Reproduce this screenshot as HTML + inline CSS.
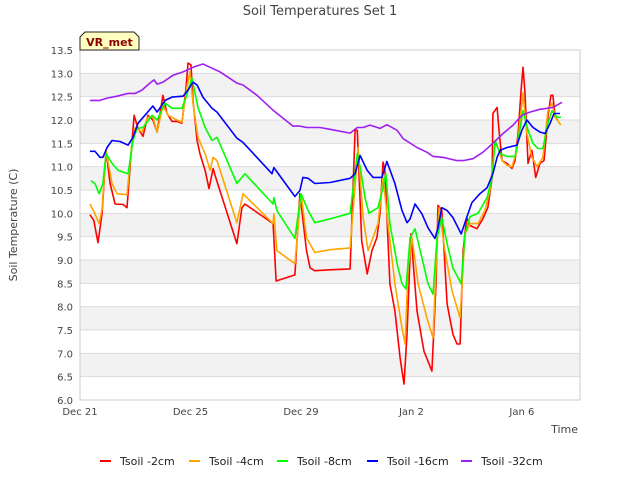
<!DOCTYPE html>
<html><head><meta charset="utf-8"><style>
html,body{margin:0;padding:0;background:#fff;}
svg{display:block;font-family:"DejaVu Sans","Liberation Sans",sans-serif;}
</style></head><body>
<svg id="chart" width="640" height="480" viewBox="0 0 640 480">
<rect x="0" y="0" width="640" height="480" fill="#fff"/>
<text x="320" y="15" text-anchor="middle" font-size="13" fill="#444">Soil Temperatures Set 1</text>
<g id="bands"></g>
<g id="grid"></g>
<rect x="80" y="50" width="500" height="350" fill="none" stroke="#ccc"/>
<g id="yticks"></g>
<g id="xticks"></g>
<text transform="translate(17,225) rotate(-90)" text-anchor="middle" font-size="11" fill="#444">Soil Temperature (C)</text>
<text x="578" y="433" text-anchor="end" font-size="11" fill="#444">Time</text>
<g id="series"></g>
<g>
<path d="M80,50 L80,37 L85,32 L134,32 L139,37 L139,50 Z" fill="#ffffc0" stroke="#222" stroke-width="1"/>
<text x="109.5" y="46" text-anchor="middle" font-size="11" font-weight="bold" fill="#8b0000">VR_met</text>
</g>
<g id="legend"></g>
</svg>
<script>
const yTicks=[6.0,6.5,7.0,7.5,8.0,8.5,9.0,9.5,10.0,10.5,11.0,11.5,12.0,12.5,13.0,13.5];
const xTickDays=[0,4,8,12,16];
const xTickLabels=["Dec 21","Dec 25","Dec 29","Jan 2","Jan 6"];
const seriesNames=["Tsoil -2cm","Tsoil -4cm","Tsoil -8cm","Tsoil -16cm","Tsoil -32cm"];
const seriesColors=["#ff0000","#ffa500","#00ff00","#0000ff","#a020f0"];
const t2cm=[[0.36,9.97],[0.5,9.85],[0.65,9.37],[0.8,10.0],[0.94,11.35],[1.09,10.64],[1.27,10.2],[1.56,10.19],[1.7,10.12],[1.81,10.98],[1.96,12.1],[2.1,11.82],[2.28,11.65],[2.46,12.1],[2.64,12.0],[2.79,11.74],[3.0,12.53],[3.15,12.14],[3.33,11.97],[3.51,11.97],[3.69,11.93],[3.84,12.7],[3.91,13.22],[4.02,13.18],[4.09,12.42],[4.24,11.56],[4.34,11.28],[4.53,10.92],[4.67,10.53],[4.82,10.96],[4.89,10.81],[5.68,9.35],[5.86,10.12],[5.97,10.2],[6.99,9.78],[7.1,8.55],[7.78,8.68],[7.96,10.42],[8.2,9.2],[8.33,8.83],[8.5,8.77],[9.05,8.79],[9.78,8.81],[9.96,11.78],[10.04,11.78],[10.2,9.41],[10.4,8.7],[10.57,9.2],[10.75,9.48],[10.86,10.0],[10.97,11.1],[11.04,10.92],[11.22,8.49],[11.4,7.91],[11.59,6.9],[11.73,6.34],[11.84,7.41],[11.98,9.56],[12.2,7.91],[12.45,7.05],[12.74,6.62],[12.89,8.49],[12.96,10.17],[13.1,10.06],[13.29,8.06],[13.5,7.41],[13.65,7.2],[13.76,7.2],[13.87,9.2],[14.0,9.91],[14.12,9.74],[14.37,9.67],[14.59,9.89],[14.77,10.13],[14.92,10.77],[14.95,12.14],[15.1,12.27],[15.17,11.78],[15.28,11.13],[15.46,11.07],[15.64,10.96],[15.75,11.13],[15.86,11.71],[15.97,12.64],[16.04,13.13],[16.11,12.58],[16.22,11.07],[16.36,11.35],[16.5,10.77],[16.65,11.07],[16.8,11.13],[16.94,12.06],[17.05,12.53],[17.12,12.53],[17.2,12.06],[17.3,12.0]];
const t4cm=[[0.36,10.2],[0.54,9.99],[0.69,9.78],[0.8,10.1],[0.94,11.35],[1.16,10.64],[1.34,10.42],[1.7,10.4],[1.88,11.5],[2.0,11.84],[2.24,11.74],[2.46,12.06],[2.64,12.06],[2.79,11.74],[3.0,12.31],[3.19,12.1],[3.51,12.0],[3.69,11.95],[3.87,12.7],[3.98,13.03],[4.09,12.36],[4.27,11.63],[4.53,11.28],[4.71,10.92],[4.82,11.2],[4.96,11.13],[5.68,9.8],[5.9,10.42],[6.99,9.78],[7.02,9.99],[7.13,9.2],[7.78,8.92],[8.0,10.42],[8.2,9.48],[8.5,9.16],[9.05,9.22],[9.78,9.26],[10.07,11.41],[10.25,9.91],[10.43,9.2],[10.61,9.48],[10.79,9.78],[10.97,10.77],[11.15,9.78],[11.4,8.49],[11.66,7.54],[11.77,7.2],[11.88,8.83],[12.02,9.48],[12.24,8.49],[12.56,7.76],[12.78,7.33],[12.89,8.83],[13.0,10.12],[13.21,9.2],[13.47,8.34],[13.76,7.76],[13.94,9.56],[14.12,9.78],[14.41,9.78],[14.66,10.06],[14.84,10.49],[15.03,11.5],[15.13,11.41],[15.28,11.13],[15.46,11.03],[15.64,11.0],[15.82,11.35],[16.04,12.58],[16.18,11.71],[16.36,11.2],[16.55,11.0],[16.76,11.2],[16.94,12.2],[17.09,12.36],[17.2,12.06],[17.41,11.89]];
const t8cm=[[0.4,10.7],[0.54,10.64],[0.69,10.42],[0.83,10.64],[0.94,11.28],[1.16,11.07],[1.38,10.92],[1.74,10.85],[1.92,11.56],[2.06,11.82],[2.28,11.84],[2.61,12.1],[2.79,12.0],[3.08,12.36],[3.33,12.25],[3.69,12.25],[3.84,12.49],[4.05,12.9],[4.27,12.27],[4.53,11.84],[4.78,11.56],[4.96,11.63],[5.68,10.64],[5.97,10.85],[6.99,10.2],[7.02,10.34],[7.13,10.06],[7.78,9.46],[8.0,10.42],[8.26,10.06],[8.5,9.8],[9.05,9.88],[9.78,10.0],[10.04,11.28],[10.14,11.0],[10.32,10.34],[10.46,10.0],[10.79,10.12],[10.97,10.55],[11.07,10.85],[11.22,9.78],[11.48,8.92],[11.66,8.49],[11.8,8.38],[11.95,9.48],[12.13,9.67],[12.38,9.05],[12.6,8.49],[12.78,8.27],[12.93,9.48],[13.1,9.91],[13.29,9.35],[13.5,8.83],[13.8,8.49],[13.94,9.56],[14.12,9.93],[14.41,10.0],[14.74,10.34],[14.92,10.77],[15.03,11.56],[15.21,11.28],[15.46,11.22],[15.75,11.22],[15.86,11.56],[16.04,12.2],[16.22,11.78],[16.4,11.5],[16.58,11.39],[16.76,11.39],[16.94,11.93],[17.09,12.2],[17.27,12.06],[17.41,12.06]];
const t16cm=[[0.36,11.33],[0.54,11.33],[0.72,11.2],[0.83,11.2],[0.98,11.41],[1.16,11.56],[1.45,11.54],[1.74,11.46],[1.92,11.63],[2.1,11.93],[2.35,12.1],[2.64,12.3],[2.79,12.17],[3.08,12.42],[3.33,12.49],[3.73,12.51],[3.91,12.64],[4.09,12.81],[4.24,12.75],[4.45,12.49],[4.78,12.25],[4.96,12.17],[5.68,11.61],[5.9,11.52],[6.95,10.85],[7.02,10.98],[7.78,10.36],[7.96,10.49],[8.07,10.77],[8.26,10.75],[8.5,10.64],[9.05,10.66],[9.78,10.75],[9.96,10.85],[10.14,11.24],[10.4,10.92],[10.61,10.77],[10.93,10.77],[11.11,11.11],[11.4,10.64],[11.66,10.06],[11.84,9.8],[11.95,9.88],[12.13,10.2],[12.38,9.99],[12.6,9.69],[12.85,9.46],[12.96,9.69],[13.1,10.12],[13.29,10.06],[13.5,9.91],[13.8,9.56],[14.0,9.91],[14.19,10.23],[14.48,10.42],[14.74,10.55],[14.95,10.85],[15.1,11.2],[15.21,11.35],[15.46,11.41],[15.82,11.46],[16.0,11.78],[16.18,12.0],[16.4,11.84],[16.65,11.74],[16.84,11.71],[17.02,11.93],[17.16,12.14],[17.38,12.14]];
const t32cm=[[0.36,12.42],[0.72,12.42],[0.98,12.47],[1.34,12.51],[1.74,12.57],[2.0,12.57],[2.24,12.64],[2.53,12.79],[2.68,12.86],[2.79,12.77],[3.0,12.81],[3.37,12.96],[3.73,13.03],[4.09,13.13],[4.45,13.2],[4.71,13.13],[5.07,13.03],[5.68,12.79],[5.9,12.75],[6.41,12.53],[6.99,12.21],[7.71,11.87],[7.96,11.87],[8.2,11.84],[8.69,11.84],[9.05,11.8],[9.78,11.72],[10.04,11.84],[10.25,11.84],[10.5,11.89],[10.86,11.82],[11.11,11.9],[11.48,11.78],[11.7,11.6],[12.2,11.41],[12.56,11.31],[12.78,11.22],[13.14,11.2],[13.65,11.13],[13.87,11.13],[14.23,11.17],[14.59,11.31],[14.95,11.5],[15.32,11.71],[15.68,11.89],[16.0,12.1],[16.29,12.17],[16.65,12.23],[16.91,12.25],[17.12,12.27],[17.45,12.38]];
const allSeries=[t2cm,t4cm,t8cm,t16cm,t32cm];

const NS="http://www.w3.org/2000/svg";
const X0=80,X1=580,Y0=400,Y1=50,DMAX=500/27.62,VMIN=6.0,VMAX=13.5;
function xs(d){return X0+d*(X1-X0)/DMAX;}
function ys(v){return Y0-(v-VMIN)*(Y0-Y1)/(VMAX-VMIN);}
function mk(tag,attrs,parent){const e=document.createElementNS(NS,tag);for(const k in attrs)e.setAttribute(k,attrs[k]);parent.appendChild(e);return e;}

const bands=document.getElementById('bands');
for(let i=0;i<yTicks.length-1;i++){
  if(i%2===1){
    const r=mk('rect',{x:X0,y:ys(yTicks[i+1]),width:X1-X0,height:ys(yTicks[i])-ys(yTicks[i+1]),fill:'#f2f2f2'},bands);
    
    
  }
}
const grid=document.getElementById('grid');
const yt=document.getElementById('yticks');
yTicks.forEach(v=>{
  const l=mk('line',{x1:X0,x2:X1,y1:ys(v),y2:ys(v),stroke:'#dcdcdc','stroke-width':1},grid);
  
  
  const t=mk('text',{x:73,y:ys(v)+4,'text-anchor':'end','font-size':10,fill:'#444'},yt);
  t.textContent=v.toFixed(1);
  
  
});
const xt=document.getElementById('xticks');
xTickDays.forEach((d,i)=>{
  const t=mk('text',{x:xs(d),y:415,'text-anchor':'middle','font-size':10,fill:'#444'},xt);
  t.textContent=xTickLabels[i];
  
  
});
const sg=document.getElementById('series');
allSeries.forEach((s,i)=>{
  const p=mk('polyline',{points:s.map(q=>xs(q[0]).toFixed(1)+','+ys(q[1]).toFixed(1)).join(' '),fill:'none',stroke:seriesColors[i],'stroke-width':1.6,'stroke-linejoin':'round'},sg);
  
  
});
const lg=document.getElementById('legend');
const lx=[100,189,277,367,461];
seriesNames.forEach((n,i)=>{
  const g=mk('g',{},lg);
  
  
  mk('line',{x1:lx[i],x2:lx[i]+11,y1:461,y2:461,stroke:seriesColors[i],'stroke-width':2},g);
  const t=mk('text',{x:lx[i]+20,y:465,'font-size':11,fill:'#222'},g);
  t.textContent=n;
});
</script>
</body></html>
